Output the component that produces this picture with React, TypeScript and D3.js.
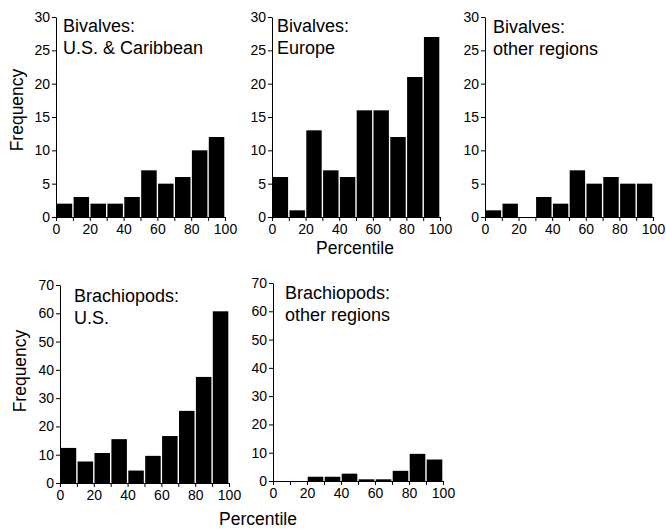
import React, { useEffect, useRef } from 'react';
import * as d3 from 'd3';

// bin counts, 10 bins of 10 percentile points each
const binEdges = [0, 10, 20, 30, 40, 50, 60, 70, 80, 90, 100];
const xTickLabels = [0, 20, 40, 60, 80, 100];

const bivalvesUS = [2, 3, 2, 2, 3, 7, 5, 6, 10, 12];
const bivalvesEurope = [6, 1, 13, 7, 6, 16, 16, 12, 21, 27];
const bivalvesOther = [1, 2, 0, 3, 2, 7, 5, 6, 5, 5];
const brachioUS = [12.4, 7.6, 10.6, 15.5, 4.4, 9.6, 16.6, 25.5, 37.5, 60.7];
const brachioOther = [0, 0, 1.5, 1.5, 2.6, 0.6, 0.6, 3.6, 9.6, 7.6];

const bivalveYTicks = [0, 5, 10, 15, 20, 25, 30];
const brachioYTicks = [0, 10, 20, 30, 40, 50, 60, 70];

const FONT = '"Liberation Sans", Arial, sans-serif';

export default function App() {
    const ref = useRef<SVGSVGElement>(null);

    useEffect(() => {
        const svg = d3.select(ref.current);
        svg.selectAll('*').remove();

        const panels = [
            { data: bivalvesUS, title: ['Bivalves:', 'U.S. & Caribbean'], x: [56, 225], y: [217, 17], max: 30, yTicks: bivalveYTicks, tx: 63, ty: 32 },
            { data: bivalvesEurope, title: ['Bivalves:', 'Europe'], x: [272, 440], y: [217, 17], max: 30, yTicks: bivalveYTicks, tx: 277, ty: 32 },
            { data: bivalvesOther, title: ['Bivalves:', 'other regions'], x: [485, 653], y: [217, 17], max: 30, yTicks: bivalveYTicks, tx: 493, ty: 33 },
            { data: brachioUS, title: ['Brachiopods:', 'U.S.'], x: [60, 229], y: [483, 285], max: 70, yTicks: brachioYTicks, tx: 74, ty: 302 },
            { data: brachioOther, title: ['Brachiopods:', 'other regions'], x: [273, 443], y: [481, 283], max: 70, yTicks: brachioYTicks, tx: 285, ty: 299 },
        ];

        panels.forEach(p => {
            const xScale = d3.scaleLinear().domain([0, 100]).range(p.x);
            const yScale = d3.scaleLinear().domain([0, p.max]).range(p.y);
            const g = svg.append('g');

            // bars (empty bins draw nothing)
            p.data.forEach((v, i) => {
                if (v <= 0) return;
                const x0 = xScale(binEdges[i]) + 0.7;
                const x1 = xScale(binEdges[i + 1]) - 0.7;
                g.append('rect')
                    .attr('x', x0)
                    .attr('y', yScale(v))
                    .attr('width', x1 - x0)
                    .attr('height', yScale(0) - yScale(v))
                    .attr('fill', '#000');
            });

            // y axis
            const yAxis = d3.axisLeft(yScale)
                .tickValues(p.yTicks)
                .tickSize(4)
                .tickSizeOuter(0)
                .tickPadding(2);
            const ya = g.append('g')
                .attr('transform', `translate(${p.x[0]},0)`)
                .call(yAxis);

            // x axis, minor ticks every 10
            const xAxis = d3.axisBottom(xScale)
                .tickValues(binEdges)
                .tickSize(4)
                .tickSizeOuter(0)
                .tickPadding(3)
                .tickFormat(d => (xTickLabels.includes(+d) ? String(d) : ''));
            const xa = g.append('g')
                .attr('transform', `translate(0,${p.y[0]})`)
                .call(xAxis);

            [ya, xa].forEach(a => {
                a.selectAll('text')
                    .attr('font-family', FONT)
                    .attr('font-size', 14)
                    .attr('fill', '#000');
                a.selectAll('line, path').attr('stroke', '#000').attr('stroke-width', 1);
                a.attr('font-family', FONT);
            });

            // panel label
            const t = g.append('text')
                .attr('font-family', FONT)
                .attr('font-size', 18)
                .attr('fill', '#000');
            p.title.forEach((line, i) => {
                t.append('tspan')
                    .attr('x', p.tx)
                    .attr('y', p.ty + i * 22)
                    .text(line);
            });
        });

        // axis titles
        const label = (x: number, y: number, txt: string, rotate: boolean) => {
            svg.append('text')
                .attr('transform', rotate ? `translate(${x},${y}) rotate(-90)` : `translate(${x},${y})`)
                .attr('text-anchor', 'middle')
                .attr('font-family', FONT)
                .attr('font-size', 17.5)
                .attr('fill', '#000')
                .text(txt);
        };
        label(23, 110, 'Frequency', true);
        label(26, 371, 'Frequency', true);
        label(355, 254, 'Percentile', false);
        label(258, 525, 'Percentile', false);
    }, []);

    return (
        <svg
            ref={ref}
            width={666}
            height={529}
            style={{ position: 'absolute', left: 0, top: 0, background: '#fff' }}
        />
    );
}
